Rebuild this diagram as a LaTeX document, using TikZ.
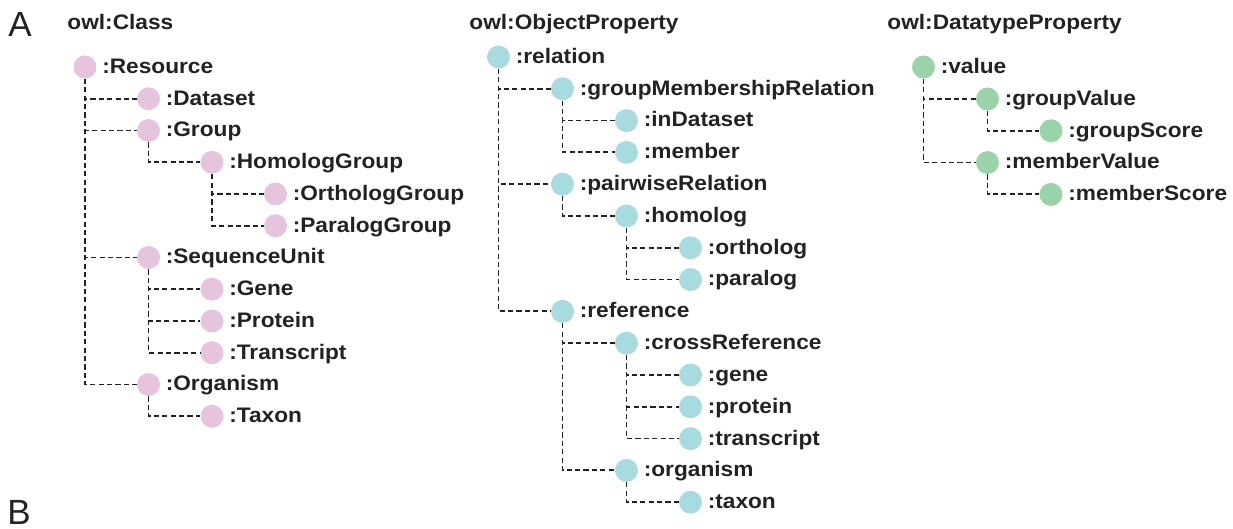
\documentclass[tikz,border=0pt]{standalone}
\usepackage{fontspec}
\usepackage{xcolor}
\setmainfont{Liberation Sans}
\newfontfamily\termfont{Liberation Sans}[FakeStretch=1.08]
\definecolor{class-pink}{HTML}{E6C4DD}
\definecolor{object-cyan}{HTML}{A8DBE0}
\definecolor{data-green}{HTML}{99D4A9}
\definecolor{jet}{HTML}{222222}

\tikzset{
  term/.style={circle, inner sep=0pt, minimum size=11.5pt},
  cls/.style={term, fill=class-pink},
  objprop/.style={term, fill=object-cyan},
  dataprop/.style={term, fill=data-green},
  termlabel/.style={anchor=base west, inner sep=0pt, text=jet,
    font=\termfont\bfseries\fontsize{10.5pt}{12pt}\selectfont},
  panel/.style={anchor=base west, inner sep=0pt, text=jet,
    font=\fontsize{17.5pt}{20pt}\selectfont},
  link/.style={draw=jet, line width=0.9pt, dash pattern=on 2.6pt off 1.6pt}
}

\begin{document}
\begin{tikzpicture}[x=0.5pt, y=-0.5pt]
  \useasboundingbox (0, 0) rectangle (1233, 529);

  \node[panel] (panel-a) at (8, 37) {A};
  \node[panel] (panel-b) at (7, 524) {B};

  % headers
  \node[termlabel] (head-class) at (67, 30) {owl:Class};
  \node[termlabel] (head-object) at (469, 30) {owl:ObjectProperty};
  \node[termlabel] (head-data) at (887, 30) {owl:DatatypeProperty};

  % owl:Class tree
  \node[cls] (resource) at (85, 67) {};
  \node[cls] (dataset) at (148.5, 98.75) {};
  \node[cls] (group) at (148.5, 130.5) {};
  \node[cls] (homolog-group) at (212, 162.25) {};
  \node[cls] (ortholog-group) at (275.5, 194) {};
  \node[cls] (paralog-group) at (275.5, 225.75) {};
  \node[cls] (sequence-unit) at (148.5, 257.5) {};
  \node[cls] (gene) at (212, 289.25) {};
  \node[cls] (protein) at (212, 321) {};
  \node[cls] (transcript) at (212, 352.75) {};
  \node[cls] (organism) at (148.5, 384.5) {};
  \node[cls] (taxon) at (212, 416.25) {};

  \node[termlabel] at ([xshift=2.5pt, yshift=-3.2pt]resource.east) {:Resource};
  \node[termlabel] at ([xshift=2.5pt, yshift=-3.2pt]dataset.east) {:Dataset};
  \node[termlabel] at ([xshift=2.5pt, yshift=-3.2pt]group.east) {:Group};
  \node[termlabel] at ([xshift=2.5pt, yshift=-3.2pt]homolog-group.east) {:HomologGroup};
  \node[termlabel] at ([xshift=2.5pt, yshift=-3.2pt]ortholog-group.east) {:OrthologGroup};
  \node[termlabel] at ([xshift=2.5pt, yshift=-3.2pt]paralog-group.east) {:ParalogGroup};
  \node[termlabel] at ([xshift=2.5pt, yshift=-3.2pt]sequence-unit.east) {:SequenceUnit};
  \node[termlabel] at ([xshift=2.5pt, yshift=-3.2pt]gene.east) {:Gene};
  \node[termlabel] at ([xshift=2.5pt, yshift=-3.2pt]protein.east) {:Protein};
  \node[termlabel] at ([xshift=2.5pt, yshift=-3.2pt]transcript.east) {:Transcript};
  \node[termlabel] at ([xshift=2.5pt, yshift=-3.2pt]organism.east) {:Organism};
  \node[termlabel] at ([xshift=2.5pt, yshift=-3.2pt]taxon.east) {:Taxon};

  \draw[link] (resource.south) |- (dataset.west);
  \draw[link] (resource.south) |- (group.west);
  \draw[link] (resource.south) |- (sequence-unit.west);
  \draw[link] (resource.south) |- (organism.west);
  \draw[link] (group.south) |- (homolog-group.west);
  \draw[link] (homolog-group.south) |- (ortholog-group.west);
  \draw[link] (homolog-group.south) |- (paralog-group.west);
  \draw[link] (sequence-unit.south) |- (gene.west);
  \draw[link] (sequence-unit.south) |- (protein.west);
  \draw[link] (sequence-unit.south) |- (transcript.west);
  \draw[link] (organism.south) |- (taxon.west);

  % owl:ObjectProperty tree
  \node[objprop] (relation) at (498.5, 57) {};
  \node[objprop] (group-membership) at (562.5, 88.8) {};
  \node[objprop] (in-dataset) at (626.5, 120.6) {};
  \node[objprop] (member) at (626.5, 152.4) {};
  \node[objprop] (pairwise) at (562.5, 184.2) {};
  \node[objprop] (homolog) at (626.5, 216) {};
  \node[objprop] (ortholog) at (690.5, 247.8) {};
  \node[objprop] (paralog) at (690.5, 279.6) {};
  \node[objprop] (reference) at (562.5, 311.4) {};
  \node[objprop] (cross-reference) at (626.5, 343.2) {};
  \node[objprop] (ref-gene) at (690.5, 375) {};
  \node[objprop] (ref-protein) at (690.5, 406.8) {};
  \node[objprop] (ref-transcript) at (690.5, 438.6) {};
  \node[objprop] (ref-organism) at (626.5, 470.4) {};
  \node[objprop] (ref-taxon) at (690.5, 502.2) {};

  \node[termlabel] at ([xshift=2.5pt, yshift=-3.2pt]relation.east) {:relation};
  \node[termlabel] at ([xshift=2.5pt, yshift=-3.2pt]group-membership.east) {:groupMembershipRelation};
  \node[termlabel] at ([xshift=2.5pt, yshift=-3.2pt]in-dataset.east) {:inDataset};
  \node[termlabel] at ([xshift=2.5pt, yshift=-3.2pt]member.east) {:member};
  \node[termlabel] at ([xshift=2.5pt, yshift=-3.2pt]pairwise.east) {:pairwiseRelation};
  \node[termlabel] at ([xshift=2.5pt, yshift=-3.2pt]homolog.east) {:homolog};
  \node[termlabel] at ([xshift=2.5pt, yshift=-3.2pt]ortholog.east) {:ortholog};
  \node[termlabel] at ([xshift=2.5pt, yshift=-3.2pt]paralog.east) {:paralog};
  \node[termlabel] at ([xshift=2.5pt, yshift=-3.2pt]reference.east) {:reference};
  \node[termlabel] at ([xshift=2.5pt, yshift=-3.2pt]cross-reference.east) {:crossReference};
  \node[termlabel] at ([xshift=2.5pt, yshift=-3.2pt]ref-gene.east) {:gene};
  \node[termlabel] at ([xshift=2.5pt, yshift=-3.2pt]ref-protein.east) {:protein};
  \node[termlabel] at ([xshift=2.5pt, yshift=-3.2pt]ref-transcript.east) {:transcript};
  \node[termlabel] at ([xshift=2.5pt, yshift=-3.2pt]ref-organism.east) {:organism};
  \node[termlabel] at ([xshift=2.5pt, yshift=-3.2pt]ref-taxon.east) {:taxon};

  \draw[link] (relation.south) |- (group-membership.west);
  \draw[link] (relation.south) |- (pairwise.west);
  \draw[link] (relation.south) |- (reference.west);
  \draw[link] (group-membership.south) |- (in-dataset.west);
  \draw[link] (group-membership.south) |- (member.west);
  \draw[link] (pairwise.south) |- (homolog.west);
  \draw[link] (homolog.south) |- (ortholog.west);
  \draw[link] (homolog.south) |- (paralog.west);
  \draw[link] (reference.south) |- (cross-reference.west);
  \draw[link] (reference.south) |- (ref-organism.west);
  \draw[link] (cross-reference.south) |- (ref-gene.west);
  \draw[link] (cross-reference.south) |- (ref-protein.west);
  \draw[link] (cross-reference.south) |- (ref-transcript.west);
  \draw[link] (ref-organism.south) |- (ref-taxon.west);

  % owl:DatatypeProperty tree
  \node[dataprop] (value) at (923.5, 67) {};
  \node[dataprop] (group-value) at (987.5, 99) {};
  \node[dataprop] (group-score) at (1051, 130.8) {};
  \node[dataprop] (member-value) at (987.5, 162.6) {};
  \node[dataprop] (member-score) at (1051, 194.4) {};

  \node[termlabel] at ([xshift=2.5pt, yshift=-3.2pt]value.east) {:value};
  \node[termlabel] at ([xshift=2.5pt, yshift=-3.2pt]group-value.east) {:groupValue};
  \node[termlabel] at ([xshift=2.5pt, yshift=-3.2pt]group-score.east) {:groupScore};
  \node[termlabel] at ([xshift=2.5pt, yshift=-3.2pt]member-value.east) {:memberValue};
  \node[termlabel] at ([xshift=2.5pt, yshift=-3.2pt]member-score.east) {:memberScore};

  \draw[link] (value.south) |- (group-value.west);
  \draw[link] (value.south) |- (member-value.west);
  \draw[link] (group-value.south) |- (group-score.west);
  \draw[link] (member-value.south) |- (member-score.west);
\end{tikzpicture}
\end{document}
